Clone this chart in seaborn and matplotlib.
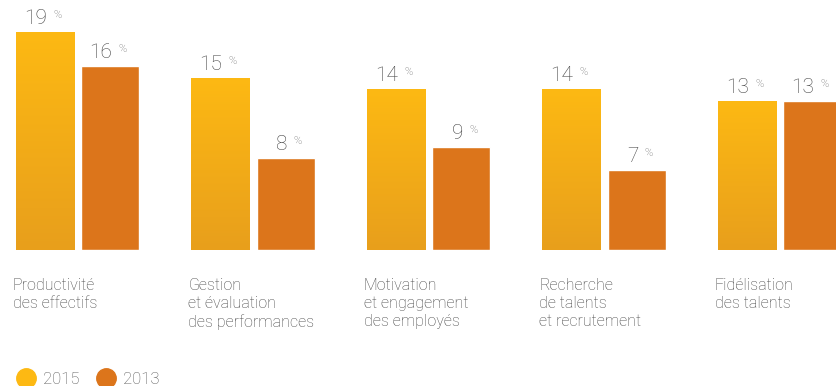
import numpy as np
import pandas as pd
import seaborn as sns
import matplotlib.pyplot as plt
from matplotlib.colors import LinearSegmentedColormap
from matplotlib.lines import Line2D

# Data
categories = [
    "Productivité\ndes effectifs",
    "Gestion\net évaluation\ndes performances",
    "Motivation\net engagement\ndes employés",
    "Recherche\nde talents\net recrutement",
    "Fidélisation\ndes talents",
]
years = ["2015", "2013"]
values_2015 = [19, 15, 14, 14, 13]
values_2013 = [16, 8, 9, 7, 13]

# Styling
color_2015_top = "#FDB913"
color_2015_bottom = "#E89F1C"
color_2013 = "#DC751B"
label_color = "#444444"
pct_color = "#666666"
font = ["Roboto", "DejaVu Sans"]

sns.set_theme(style="white")
plt.rcParams["font.family"] = font
plt.rcParams["font.weight"] = "light"

df = pd.DataFrame({
    "categorie": categories * 2,
    "annee": [years[0]] * len(categories) + [years[1]] * len(categories),
    "valeur": values_2015 + values_2013,
})

W, H = 837, 386
fig = plt.figure(figsize=(W / 100, H / 100), dpi=100)
fig.patch.set_facecolor("white")
base_px = 250
ax = fig.add_axes([0, (H - base_px) / H, 1, base_px / H])

sns.barplot(
    data=df, x="categorie", y="valeur", hue="annee", hue_order=years,
    palette=[color_2015_top, color_2013], width=0.741, gap=0.108,
    saturation=1, errorbar=None, legend=False, ax=ax,
)

xlim = (-0.4416, 4.3276)
ylim = (0, base_px / 11.47)

# Vertical gradient on the 2015 bars
cmap = LinearSegmentedColormap.from_list("g2015", [color_2015_bottom, color_2015_top])
grad = np.linspace(0, 1, 256).reshape(-1, 1)
bars = list(ax.patches)
n = len(categories)
bars_2015 = bars[:n]
bars_2013 = bars[n:]
for p in bars_2015:
    x0, w, h = p.get_x(), p.get_width(), p.get_height()
    im = ax.imshow(grad, extent=[x0, x0 + w, 0, h], origin="lower",
                   aspect="auto", cmap=cmap, zorder=p.get_zorder() + 0.1)
    im.set_clip_path(p)

ax.set_xlim(*xlim)
ax.set_ylim(*ylim)
ax.axis("off")

px = 0.72  # points per pixel at 100 dpi

# Value labels
for group, vals in ((bars_2015, values_2015), (bars_2013, values_2013)):
    for p, v in zip(group, vals):
        xc = p.get_x() + p.get_width() / 2
        ax.annotate(f"{v}", xy=(xc, v), xytext=(2 * px, 8 * px),
                    textcoords="offset points", ha="right", va="baseline",
                    fontsize=15, color=label_color, annotation_clip=False)
        ax.annotate("%", xy=(xc, v), xytext=(8 * px, 14 * px),
                    textcoords="offset points", ha="left", va="baseline",
                    fontsize=8, color=pct_color, annotation_clip=False)

# Category labels under each group
for p, cat in zip(bars_2015, categories):
    ax.annotate(cat, xy=(p.get_x(), 0), xytext=(-3 * px, -28 * px),
                textcoords="offset points", ha="left", va="top",
                fontsize=11.5, color=label_color, linespacing=1.26,
                annotation_clip=False)

# Legend
handles = [
    Line2D([], [], marker="o", ls="", markersize=14, color=color_2015_top),
    Line2D([], [], marker="o", ls="", markersize=14, color=color_2013),
]
fig.legend(handles, years, loc="center left",
           bbox_to_anchor=(18 / W, 6.5 / H), frameon=False,
           fontsize=12, handlelength=1.0, handletextpad=0.5,
           columnspacing=1.1, ncol=2, borderpad=0, borderaxespad=0,
           labelcolor="#555555")

fig.savefig("out.png", dpi=100, facecolor="white")
